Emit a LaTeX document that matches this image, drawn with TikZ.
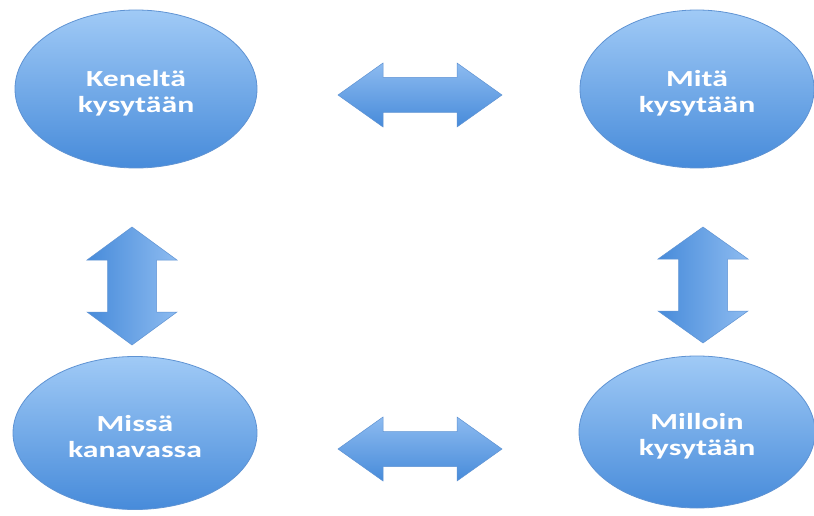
\documentclass[tikz,border=0pt]{standalone}
\usepackage{fontspec}
\setmainfont{Carlito}
\usetikzlibrary{shapes.geometric}
\definecolor{ltop}{HTML}{A0CAF6}
\definecolor{lbot}{HTML}{478BDA}
\definecolor{lline}{HTML}{5F93D3}
\definecolor{aright}{HTML}{8DBBF0}
\tikzset{
  bubble/.style={ellipse, draw=lline, line width=0.8pt, top color=ltop, bottom color=lbot,
    inner sep=0pt, font=\bfseries\fontsize{23}{26}\selectfont, text=white, align=center},
  harr/.style={draw=lline, line width=0.5pt, top color=aright, bottom color=lbot},
  varr/.style={draw=lline, line width=0.5pt, left color=lbot, right color=aright},
}
\newcommand\wtxt[1]{\raisebox{-4pt}[\height][\depth]{\scalebox{1.38}[1]{#1}}}
\begin{document}
\begin{tikzpicture}[x=1pt,y=-1pt]
\useasboundingbox (0,0) rectangle (814,516);
\node[bubble, minimum width=242pt, minimum height=158pt] (kenelta) at (136,89)
  {\wtxt{Keneltä}\\\wtxt{kysytään}};
\node[bubble, minimum width=234pt, minimum height=158pt] (mita) at (697,89)
  {\wtxt{Mitä}\\\wtxt{kysytään}};
\node[bubble, minimum width=244pt, minimum height=153pt] (missa) at (135,433)
  {\wtxt{Missä}\\\wtxt{kanavassa}};
\node[bubble, minimum width=236pt, minimum height=152pt] (milloin) at (697,432)
  {\wtxt{Milloin}\\\wtxt{kysytään}};
% horizontal double arrows
\foreach \cy in {95,449}{
\begin{scope}[shift={(420,\cy)}]
\draw[harr] (-82,0) -- (-37,-32) -- (-37,-17.5) -- (37,-17.5) -- (37,-32) -- (82,0)
  -- (37,32) -- (37,17.5) -- (-37,17.5) -- (-37,32) -- cycle;
\end{scope}}
% vertical double arrows
\foreach \cx/\cy/\hl in {132/286/59, 703/285/58}{
\begin{scope}[shift={(\cx,\cy)}]
\draw[varr] (0,-\hl) -- (45,-26) -- (24.5,-26) -- (24.5,26) -- (45,26) -- (0,\hl)
  -- (-45,26) -- (-24.5,26) -- (-24.5,-26) -- (-45,-26) -- cycle;
\end{scope}}
\end{tikzpicture}
\end{document}
